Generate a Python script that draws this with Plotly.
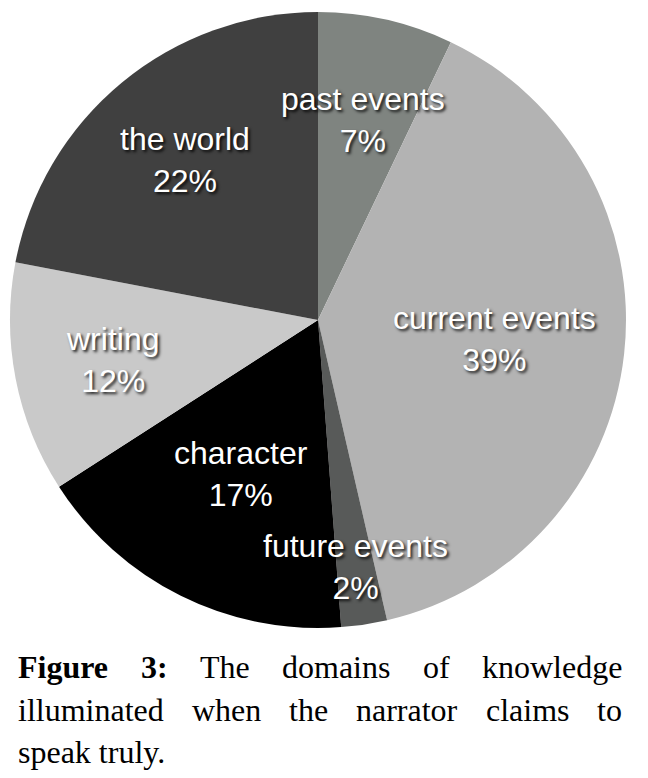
import math
import plotly.graph_objects as go

# ---- data ----
labels = ["past events", "current events", "future events", "character", "writing", "the world"]
values = [7.1, 39.3, 2.4, 17.1, 12.1, 22.0]
colors = ["#7f8480", "#b3b3b3", "#585a59", "#000000", "#c9c9c9", "#404040"]
caption_lines = [
    [("Figure", True), ("3:", True), ("The", False), ("domains", False), ("of", False), ("knowledge", False)],
    [("illuminated", False), ("when", False), ("the", False), ("narrator", False), ("claims", False), ("to", False)],
    [("speak truly.", False)],
]

# ---- layout constants ----
W, H = 648, 778
CX, CY, R = 318, 320, 308
label_radius = [0.666, 0.575, 0.81, 0.558, 0.68, 0.676]

fig = go.Figure(go.Pie(
    labels=labels, values=values, sort=False, direction="clockwise", rotation=0,
    marker=dict(colors=colors, line=dict(width=0)),
    textinfo="none", hoverinfo="label+percent", showlegend=False,
    domain=dict(x=[(CX - R) / W, (CX + R) / W], y=[1 - (CY + R) / H, 1 - (CY - R) / H]),
))

total = sum(values)
annotations = []
cum = 0.0
for lab, v, rf in zip(labels, values, label_radius):
    mid = (cum + v / 2) / total * 2 * math.pi
    cum += v
    px = CX + rf * R * math.sin(mid)
    py = CY - rf * R * math.cos(mid)
    annotations.append(dict(
        x=px / W, y=1 - py / H, xref="paper", yref="paper",
        xanchor="center", yanchor="middle", showarrow=False, align="center",
        text=f"{lab}<br>{round(v / total * 100)}%",
        font=dict(family="Liberation Sans, Arial, sans-serif", size=32, color="white",
                  shadow="2px 2px 3px rgba(0,0,0,0.85)"),
    ))

# ---- justified caption ----
reg = {' ': 250, 'T': 611, 'a': 444, 'c': 444, 'd': 500, 'e': 444, 'f': 333, 'g': 500, 'h': 500,
       'i': 278, 'k': 500, 'l': 278, 'm': 778, 'n': 500, 'o': 500, 'p': 500, 'r': 333, 's': 389,
       't': 278, 'u': 500, 'w': 722, 'y': 500, '.': 250}
bold = {'F': 611, 'i': 278, 'g': 500, 'u': 556, 'r': 444, 'e': 444, '3': 500, ':': 333}
FS = 32
LEFT, RIGHT = 16, 620
line_y = [667, 710, 752]


def wlen(word, b):
    t = bold if b else reg
    return sum(t.get(ch, 500) for ch in word) / 1000 * FS


for li, words in enumerate(caption_lines):
    widths = [wlen(w, b) for w, b in words]
    if len(words) > 1 and li < len(caption_lines) - 1:
        gap = (RIGHT - LEFT - sum(widths)) / (len(words) - 1)
    else:
        gap = 0.25 * FS
    x = LEFT
    for (w, b), wd in zip(words, widths):
        annotations.append(dict(
            x=x / W, y=1 - line_y[li] / H, xref="paper", yref="paper",
            xanchor="left", yanchor="middle", showarrow=False,
            text=f"<b>{w}</b>" if b else w,
            font=dict(family="Liberation Serif, Times New Roman, serif", size=FS, color="black"),
        ))
        x += wd + gap

fig.update_layout(
    width=W, height=H, margin=dict(l=0, r=0, t=0, b=0),
    paper_bgcolor="white", plot_bgcolor="white",
    annotations=annotations,
)

fig.write_html("out.html")
